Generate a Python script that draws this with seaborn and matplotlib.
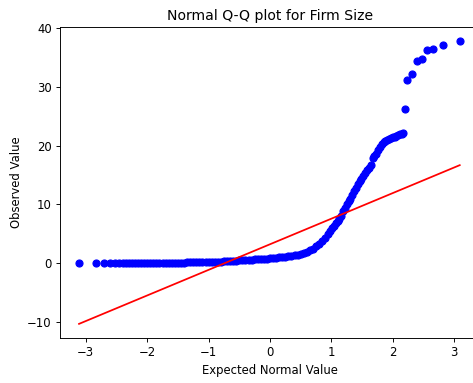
import matplotlib
matplotlib.use("Agg")
import matplotlib.pyplot as plt
import seaborn as sns
import numpy as np
import pandas as pd

# Expected normal quantiles (x) and observed Firm Size values (y)
expected = [
    -3.11, -2.84, -2.70, -2.61, -2.53, -2.46,
    -2.40, -2.35, -2.30, -2.25, -2.20, -2.15, -2.10, -2.05, -2.00, -1.95,
    -1.90, -1.85, -1.80, -1.75, -1.70, -1.65, -1.60, -1.55, -1.50, -1.45,
    -1.40, -1.35, -1.30, -1.25, -1.20, -1.15, -1.10, -1.05, -1.00, -0.95,
    -0.90, -0.85, -0.80, -0.75, -0.70, -0.65, -0.60,
    -0.55, -0.50, -0.45, -0.40, -0.35, -0.30, -0.25, -0.20, -0.15, -0.10,
    -0.05, 0.00, 0.05, 0.10, 0.15, 0.20, 0.25, 0.30, 0.35, 0.40,
    0.45, 0.50, 0.55, 0.60, 0.65, 0.70, 0.75, 0.80, 0.85, 0.90, 0.95,
    0.98, 1.01, 1.04, 1.07, 1.10, 1.13, 1.16, 1.19, 1.22, 1.25,
    1.28, 1.31, 1.34, 1.37, 1.40, 1.43, 1.46, 1.49, 1.52, 1.55,
    1.58, 1.61, 1.64, 1.67, 1.70, 1.73, 1.76, 1.79, 1.82, 1.85,
    1.88, 1.91, 1.94, 1.97, 2.00, 2.03, 2.06, 2.09, 2.12, 2.15, 2.17,
    2.20, 2.23, 2.32, 2.40, 2.47, 2.55, 2.66, 2.81, 3.09,
]
observed = [
    0.00, 0.00, 0.01, 0.01, 0.02, 0.02,
    0.02, 0.02, 0.03, 0.03, 0.04, 0.04, 0.05, 0.05, 0.06, 0.06,
    0.07, 0.07, 0.08, 0.08, 0.09, 0.09, 0.10, 0.10, 0.11, 0.12,
    0.13, 0.14, 0.15, 0.16, 0.17, 0.18, 0.19, 0.20, 0.21, 0.23,
    0.25, 0.28, 0.30, 0.33, 0.36, 0.39, 0.42,
    0.45, 0.48, 0.52, 0.55, 0.58, 0.61, 0.64, 0.67, 0.70, 0.75,
    0.80, 0.85, 0.90, 0.95, 1.00, 1.05, 1.12, 1.19, 1.27, 1.37,
    1.48, 1.60, 1.75, 1.95, 2.20, 2.50, 2.85, 3.25, 3.70, 4.30, 5.00,
    5.50, 5.95, 6.35, 6.80, 7.20, 7.60, 8.10, 8.80, 9.40, 10.00,
    10.50, 11.00, 11.60, 12.20, 12.80, 13.40, 13.90, 14.30, 14.80, 15.30,
    15.80, 16.20, 16.70, 17.90, 18.20, 18.60, 19.20, 19.80, 20.30, 20.60,
    20.80, 21.00, 21.20, 21.30, 21.40, 21.50, 21.60, 21.80, 21.90, 22.00, 22.10,
    26.20, 31.20, 32.20, 34.30, 34.70, 36.30, 36.40, 37.10, 37.70,
]

# Least-squares reference line
fit_slope = 4.35
fit_intercept = 3.23

title = "Normal Q-Q plot for Firm Size"
xlabel = "Expected Normal Value"
ylabel = "Observed Value"

df = pd.DataFrame({"expected": expected, "observed": observed})
x_ends = [min(expected), max(expected)]
line_df = pd.DataFrame({"x": x_ends,
                        "y": [fit_intercept + fit_slope * v for v in x_ends]})

DPI = 84
fig = plt.figure(figsize=(473 / DPI, 383 / DPI), dpi=DPI)
ax = fig.add_axes([60 / 473, 1 - 338 / 383, 420 / 473, (338 - 27) / 383])

sns.scatterplot(data=df, x="expected", y="observed", ax=ax,
                color="blue", s=36, edgecolor="blue", linewidth=1,
                alpha=1, zorder=2)
sns.lineplot(data=line_df, x="x", y="y", ax=ax, color="red",
             linewidth=1.5, zorder=3)

ax.set_title(title, fontsize=12)
ax.set_xlabel(xlabel)
ax.set_ylabel(ylabel)
ax.set_xticks([-3, -2, -1, 0, 1, 2, 3])
ax.set_yticks([-10, 0, 10, 20, 30, 40])
ax.set_xlim(-3.42, 3.42)
ax.set_ylim(-12.7, 40.15)

fig.savefig("out.png", dpi=DPI)
